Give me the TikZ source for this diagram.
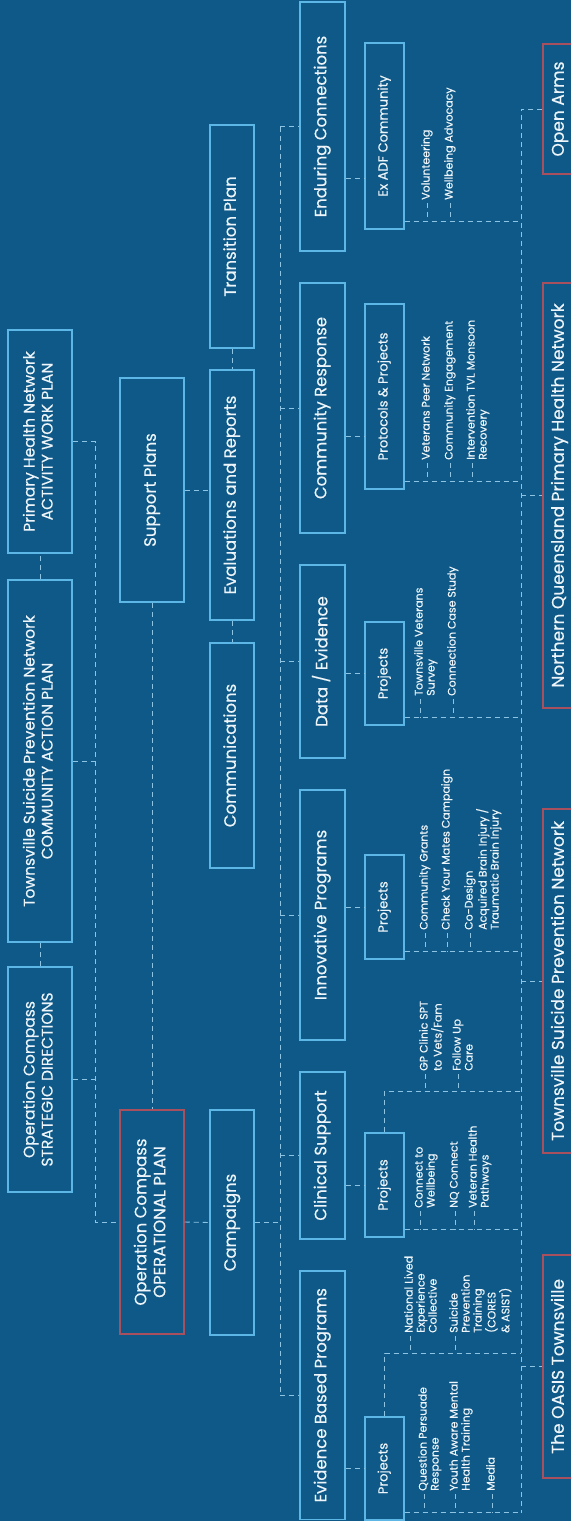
\documentclass[tikz,border=0pt]{standalone}
\usepackage{fontspec}
\setmainfont{Poppins}[UprightFeatures={FakeBold=0.35}]
\usepackage{graphicx}
\definecolor{bgblue}{HTML}{0E5987}
\definecolor{frameblue}{HTML}{5DB7E6}
\definecolor{framered}{HTML}{A9505E}
\definecolor{linkblue}{HTML}{8DC3E3}
\definecolor{txtwhite}{HTML}{EEF5FA}
\newcommand{\vtitle}[1]{\rotatebox{90}{\begin{tabular}{@{}c@{}}#1\end{tabular}}}
\newcommand{\vlist}[1]{\rotatebox{90}{\begin{tabular}{@{}l@{}}#1\end{tabular}}}

\begin{document}
\begin{tikzpicture}[x=1pt, y={(0pt,-1pt)},
    box/.style={draw=frameblue, line width=1.5pt, text=txtwhite, inner sep=0pt, font=\fontsize{16.5}{19}\selectfont},
    plan/.style={box, font=\fontsize{15.5}{18}\selectfont},
    redbox/.style={box, draw=framered},
    partner/.style={redbox, font=\fontsize{17}{19}\selectfont},
    subbox/.style={box, line width=1.1pt, font=\fontsize{13}{15}\selectfont},
    item/.style={text=txtwhite, inner sep=0pt, anchor=south west, font=\fontsize{11}{12}\selectfont},
    link/.style={draw=linkblue, line width=0.9pt, dash pattern=on 5pt off 4pt}]

    \path[use as bounding box, clip] (0,0) rectangle (571,1521);
    \fill[bgblue] (0,0) rectangle (571,1521);

    % plans
    \node[plan, minimum width=64pt, minimum height=225pt] (stratdir) at (40,1079.5) {\vtitle{Operation Compass\\STRATEGIC DIRECTIONS}};
    \node[plan, minimum width=64pt, minimum height=362pt] (actplan) at (40,761) {\vtitle{Townsville Suicide Prevention Network\\COMMUNITY ACTION PLAN}};
    \node[plan, minimum width=64pt, minimum height=223pt] (workplan) at (40,441.5) {\vtitle{Primary Health Network\\ACTIVITY WORK PLAN}};
    \node[plan, redbox, minimum width=64pt, minimum height=224pt] (opplan) at (152,1222) {\vtitle{Operation Compass\\OPERATIONAL PLAN}};
    \node[box, minimum width=64pt, minimum height=224pt] (support) at (152,490) {\vtitle{Support Plans}};

    % support plans row
    \node[box, minimum width=44pt, minimum height=225pt] (campaigns) at (232,1222.5) {\vtitle{Campaigns}};
    \node[box, minimum width=44pt, minimum height=225pt] (comms) at (232,755.5) {\vtitle{Communications}};
    \node[box, minimum width=44pt, minimum height=250pt] (evals) at (232,495) {\vtitle{Evaluations and Reports}};
    \node[box, minimum width=44pt, minimum height=223pt] (transition) at (232,236.5) {\vtitle{Transition Plan}};

    % program areas
    \node[box, minimum width=45pt, minimum height=248.5pt] (ebp) at (322.5,1395.25) {\vtitle{Evidence Based Programs}};
    \node[box, minimum width=45pt, minimum height=167pt] (clinical) at (322.5,1155.5) {\vtitle{Clinical Support}};
    \node[box, minimum width=45pt, minimum height=250pt] (innov) at (322.5,915) {\vtitle{Innovative Programs}};
    \node[box, minimum width=45pt, minimum height=193pt] (data) at (322.5,661.5) {\vtitle{Data / Evidence}};
    \node[box, minimum width=45pt, minimum height=250pt] (commresp) at (322.5,408) {\vtitle{Community Response}};
    \node[box, minimum width=45pt, minimum height=249pt] (enduring) at (322.5,126.5) {\vtitle{Enduring Connections}};

    % project boxes
    \node[subbox, minimum width=39pt, minimum height=103pt] (projE) at (384.5,1468.5) {\vtitle{Projects}};
    \node[subbox, minimum width=39pt, minimum height=104pt] (projC) at (384.5,1185) {\vtitle{Projects}};
    \node[subbox, minimum width=39pt, minimum height=104pt] (projI) at (384.5,907) {\vtitle{Projects}};
    \node[subbox, minimum width=39pt, minimum height=103pt] (projD) at (384.5,673.5) {\vtitle{Projects}};
    \node[subbox, minimum width=39pt, minimum height=185pt] (protocols) at (384.5,396.5) {\vtitle{Protocols \& Projects}};
    \node[subbox, minimum width=39pt, minimum height=186pt] (exadf) at (384.5,136) {\vtitle{Ex ADF Community}};

    % partners
    \node[partner, minimum width=34pt, minimum height=223pt] (oasis) at (560,1366.5) {\vtitle{The OASIS Townsville}};
    \node[partner, minimum width=34pt, minimum height=344pt] (tspn) at (560,981) {\vtitle{Townsville Suicide Prevention Network}};
    \node[partner, minimum width=34pt, minimum height=425pt] (nqphn) at (560,495.5) {\vtitle{Northern Queensland Primary Health Network}};
    \node[partner, minimum width=34pt, minimum height=130pt] (openarms) at (560,109) {\vtitle{Open Arms}};

    % bus lines
    \coordinate (busA) at (95,0);
    \coordinate (busB) at (280,0);
    \coordinate (busC) at (521,0);

    % plans to operational plan
    \draw[link] (stratdir) -- (actplan);
    \draw[link] (actplan) -- (workplan);
    \draw[link] (workplan.east) -- (workplan.east -| busA) |- (opplan.west);
    \draw[link] (actplan.east) -- (actplan.east -| busA);
    \draw[link] (stratdir.east) -- (stratdir.east -| busA);
    \draw[link] (support.south) -- (opplan.north);
    \draw[link] (support.east) -- (support.east -| evals.west);
    \draw[link] (transition) -- (evals);
    \draw[link] (evals) -- (comms);
    \draw[link] (opplan.east) -- (campaigns.west);

    % campaigns to program areas
    \draw[link] (campaigns.east) -- (campaigns.east -| busB);
    \draw[link] (enduring.west -| busB) -- (ebp.west -| busB);
    \draw[link] (enduring.west -| busB) -- (enduring.west);
    \draw[link] (commresp.west -| busB) -- (commresp.west);
    \draw[link] (data.west -| busB) -- (data.west);
    \draw[link] (innov.west -| busB) -- (innov.west);
    \draw[link] (clinical.west -| busB) -- (clinical.west);
    \draw[link] (ebp.west -| busB) -- (ebp.west);

    % program areas to projects
    \coordinate (protin) at ([yshift=-40pt]protocols.west);
    \coordinate (exin) at ([yshift=-42pt]exadf.west);
    \draw[link] (projE.west -| ebp.east) -- (projE.west);
    \draw[link] (projC.west -| clinical.east) -- (projC.west);
    \draw[link] (projI.west -| innov.east) -- (projI.west);
    \draw[link] (projD.west -| data.east) -- (projD.west);
    \draw[link] (protin -| commresp.east) -- (protin);
    \draw[link] (exin -| enduring.east) -- (exin);

    % project lists
    \coordinate (exT) at ([yshift=8pt]exadf.south east);
    \coordinate (protT) at ([yshift=8pt]protocols.south east);
    \coordinate (dataT) at ([yshift=8pt]projD.south east);
    \coordinate (innT) at ([yshift=8pt]projI.south east);
    \coordinate (clinT) at ([yshift=8pt]projC.south east);
    \coordinate (ebpT) at ([yshift=8pt]projE.south east);
    \coordinate (clinU) at ([yshift=41pt]projC.north);
    \coordinate (ebpU) at ([yshift=63pt]projE.north);
    \draw[link] (exT) -- (exT -| busC);
    \draw[link] (protT) -- (protT -| busC);
    \draw[link] (dataT) -- (dataT -| busC);
    \draw[link] (innT) -- (innT -| busC);
    \draw[link] (clinT) -- (clinT -| busC);
    \draw[link] (ebpT) -- (ebpT -| busC);
    \draw[link] (projC.north) -- (clinU) -- (clinU -| busC);
    \draw[link] (projE.north) -- (ebpU) -- (ebpU -| busC);

    \node[item] (vol) at (421,200) {\vlist{Volunteering}};
    \node[item] (wadv) at (444,200) {\vlist{Wellbeing Advocacy}};
    \node[item] (vpn) at (421,460) {\vlist{Veterans Peer Network}};
    \node[item] (ceng) at (444,460) {\vlist{Community Engagement}};
    \node[item] (itvl) at (466,460) {\vlist{Intervention TVL Monsoon\\Recovery}};
    \node[item] (tvs) at (414,696) {\vlist{Townsville Veterans\\Survey}};
    \node[item] (ccs) at (447,696) {\vlist{Connection Case Study}};
    \node[item] (cgr) at (419,930) {\vlist{Community Grants}};
    \node[item] (cym) at (441,930) {\vlist{Check Your Mates Campaign}};
    \node[item] (cod) at (464,930) {\vlist{Co-Design\\Acquired Brain Injury /\\Traumatic Brain Injury}};
    \node[item] (gpc) at (419,1071) {\vlist{GP Clinic SPT\\to Vets/Fam}};
    \node[item] (fuc) at (452,1071) {\vlist{Follow Up\\Care}};
    \node[item] (ctw) at (414,1208) {\vlist{Connect to\\Wellbeing}};
    \node[item] (nqc) at (449,1208) {\vlist{NQ Connect}};
    \node[item] (vhp) at (468,1208) {\vlist{Veteran Health\\Pathways}};
    \node[item] (nlec) at (404,1333) {\vlist{National Lived\\Experience\\Collective}};
    \node[item] (spt) at (449,1333) {\vlist{Suicide\\Prevention\\Training\\(CORES\\\& ASIST)}};
    \node[item] (qpr) at (418,1491) {\vlist{Question Persuade\\Response}};
    \node[item] (yam) at (449,1491) {\vlist{Youth Aware Mental\\Health Training}};
    \node[item] (med) at (486,1491) {\vlist{Media}};

    \draw[link] ([xshift=6pt,yshift=-3pt]vol.south west) -- ([xshift=6pt]vol.south west |- exT);
    \draw[link] ([xshift=6pt,yshift=-3pt]wadv.south west) -- ([xshift=6pt]wadv.south west |- exT);
    \draw[link] ([xshift=6pt,yshift=-3pt]vpn.south west) -- ([xshift=6pt]vpn.south west |- protT);
    \draw[link] ([xshift=6pt,yshift=-3pt]ceng.south west) -- ([xshift=6pt]ceng.south west |- protT);
    \draw[link] ([xshift=6pt,yshift=-3pt]itvl.south west) -- ([xshift=6pt]itvl.south west |- protT);
    \draw[link] ([xshift=6pt,yshift=-3pt]tvs.south west) -- ([xshift=6pt]tvs.south west |- dataT);
    \draw[link] ([xshift=6pt,yshift=-3pt]ccs.south west) -- ([xshift=6pt]ccs.south west |- dataT);
    \draw[link] ([xshift=6pt,yshift=-3pt]cgr.south west) -- ([xshift=6pt]cgr.south west |- innT);
    \draw[link] ([xshift=6pt,yshift=-3pt]cym.south west) -- ([xshift=6pt]cym.south west |- innT);
    \draw[link] ([xshift=6pt,yshift=-3pt]cod.south west) -- ([xshift=6pt]cod.south west |- innT);
    \draw[link] ([xshift=6pt,yshift=-3pt]gpc.south west) -- ([xshift=6pt]gpc.south west |- clinU);
    \draw[link] ([xshift=6pt,yshift=-3pt]fuc.south west) -- ([xshift=6pt]fuc.south west |- clinU);
    \draw[link] ([xshift=6pt,yshift=-3pt]ctw.south west) -- ([xshift=6pt]ctw.south west |- clinT);
    \draw[link] ([xshift=6pt,yshift=-3pt]nqc.south west) -- ([xshift=6pt]nqc.south west |- clinT);
    \draw[link] ([xshift=6pt,yshift=-3pt]vhp.south west) -- ([xshift=6pt]vhp.south west |- clinT);
    \draw[link] ([xshift=6pt,yshift=-3pt]nlec.south west) -- ([xshift=6pt]nlec.south west |- ebpU);
    \draw[link] ([xshift=6pt,yshift=-3pt]spt.south west) -- ([xshift=6pt]spt.south west |- ebpU);
    \draw[link] ([xshift=6pt,yshift=-3pt]qpr.south west) -- ([xshift=6pt]qpr.south west |- ebpT);
    \draw[link] ([xshift=6pt,yshift=-3pt]yam.south west) -- ([xshift=6pt]yam.south west |- ebpT);
    \draw[link] ([xshift=6pt,yshift=-3pt]med.south west) -- ([xshift=6pt]med.south west |- ebpT);

    % partners
    \draw[link] (openarms.west) -| (ebpT -| busC);
    \draw[link] (nqphn.west -| busC) -- (nqphn.west);
    \draw[link] (tspn.west -| busC) -- (tspn.west);
    \draw[link] (oasis.west -| busC) -- (oasis.west);
\end{tikzpicture}
\end{document}
